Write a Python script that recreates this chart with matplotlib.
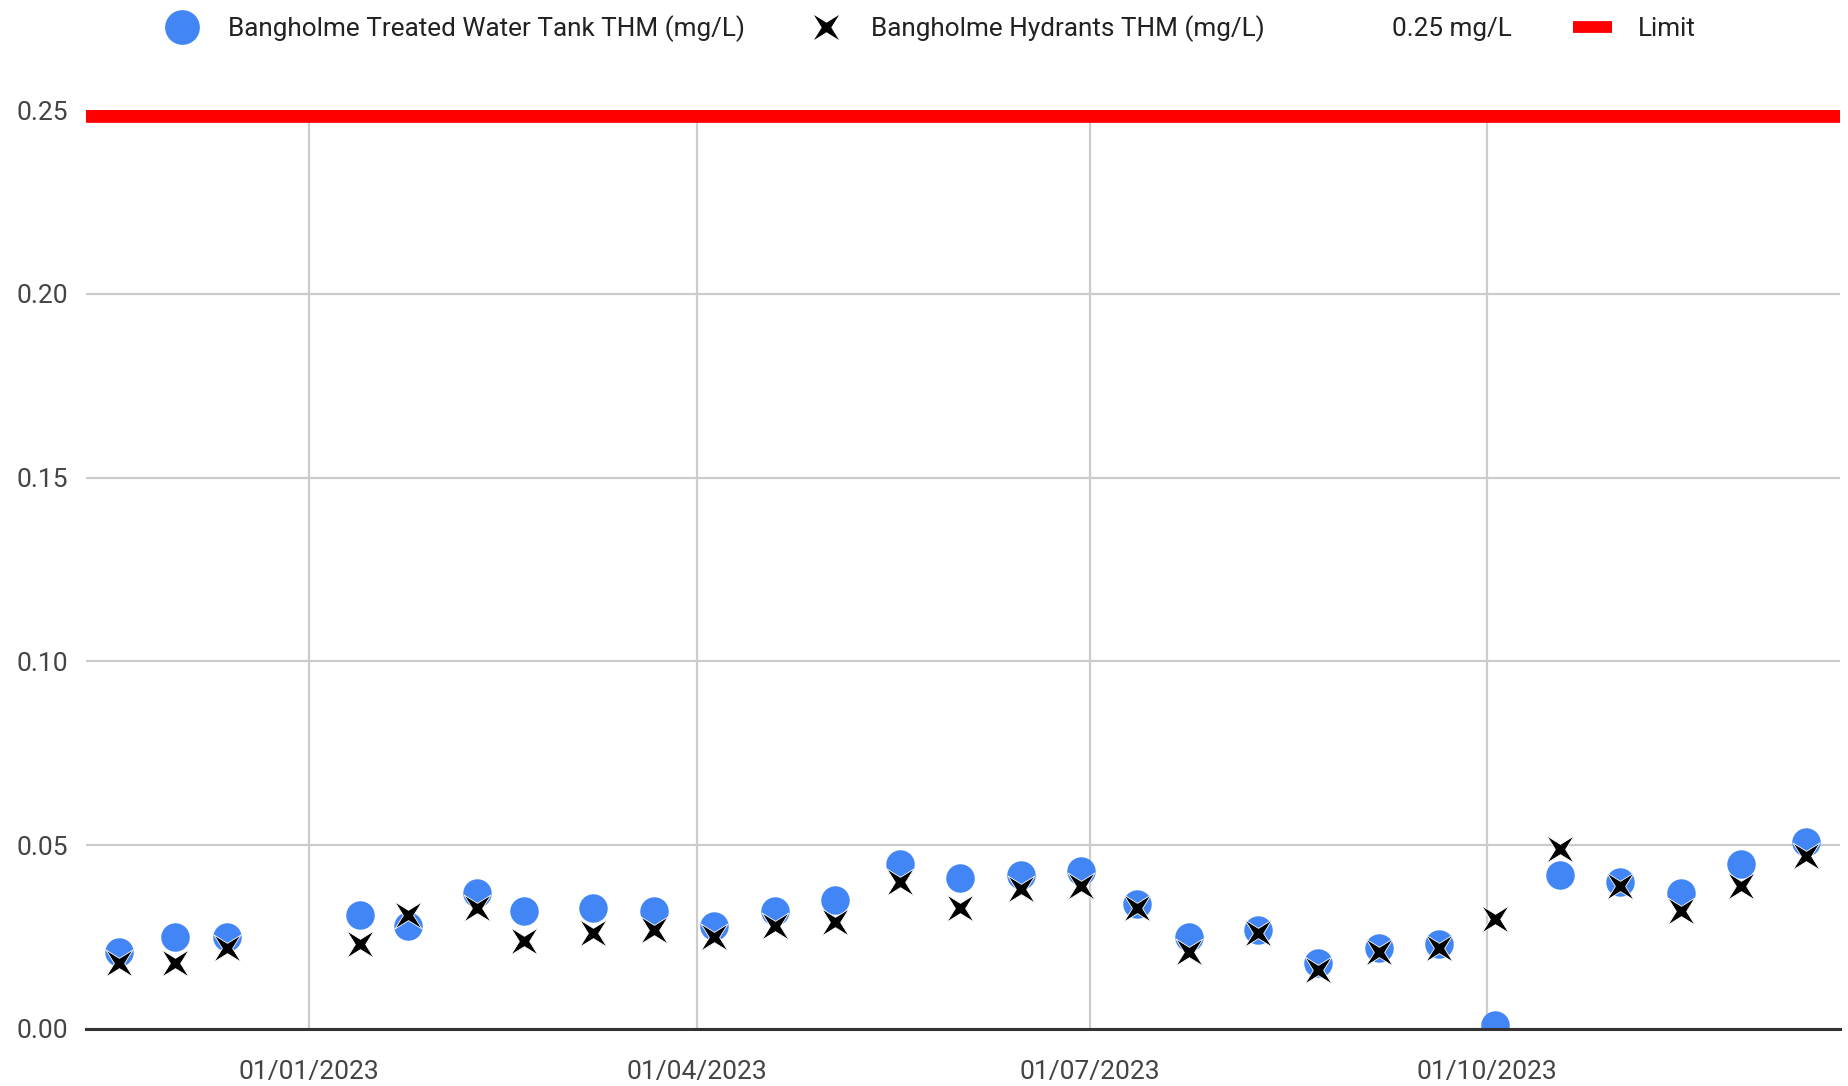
import numpy as np
import matplotlib
matplotlib.use('Agg')
import matplotlib.pyplot as plt
import matplotlib.dates as mdates
from matplotlib.lines import Line2D
from matplotlib.path import Path

# sample dates and THM readings (mg/L)
sample_dates = ['2022-11-18', '2022-12-01', '2022-12-13', '2023-01-13', '2023-01-24',
                '2023-02-09', '2023-02-20', '2023-03-08', '2023-03-22', '2023-04-05',
                '2023-04-19', '2023-05-03', '2023-05-18', '2023-06-01', '2023-06-15',
                '2023-06-29', '2023-07-12', '2023-07-24', '2023-08-09', '2023-08-23',
                '2023-09-06', '2023-09-20', '2023-10-03', '2023-10-18', '2023-11-01',
                '2023-11-15', '2023-11-29', '2023-12-14']
tank_thm = [0.021, 0.025, 0.025, 0.031, 0.028, 0.037, 0.032, 0.033, 0.032, 0.028,
            0.032, 0.035, 0.045, 0.041, 0.042, 0.043, 0.034, 0.025, 0.027, 0.018,
            0.022, 0.023, 0.001, 0.042, 0.040, 0.037, 0.045, 0.051]
hydrant_thm = [0.018, 0.018, 0.022, 0.023, 0.031, 0.033, 0.024, 0.026, 0.027, 0.025,
               0.028, 0.029, 0.040, 0.033, 0.038, 0.039, 0.033, 0.021, 0.026, 0.016,
               0.021, 0.022, 0.030, 0.049, 0.039, 0.032, 0.039, 0.047]
limit_value = 0.25

series_labels = ['Bangholme Treated Water Tank THM (mg/L)', 'Bangholme Hydrants THM (mg/L)',
                 '0.25 mg/L', 'Limit']
x_ticks = ['2023-01-01', '2023-04-01', '2023-07-01', '2023-10-01']
y_ticks = [0.0, 0.05, 0.10, 0.15, 0.20, 0.25]
x_range = ['2022-11-10T10', '2023-12-21T22']

BLUE = '#4285F4'
RED = '#FF0000'
GRID = '#CCCCCC'

plt.rcParams['font.family'] = ['Roboto', 'DejaVu Sans']


def star_x_marker():
    # four-pointed star rotated 45 degrees (google charts "star" x)
    r = 0.38
    verts = [(1, 1), (0, r), (-1, 1), (-r, 0), (-1, -1), (0, -r), (1, -1), (r, 0), (1, 1)]
    codes = [Path.MOVETO] + [Path.LINETO] * 7 + [Path.CLOSEPOLY]
    return Path(verts, codes)


x_marker = star_x_marker()
dates = np.array(sample_dates, dtype='datetime64[D]')

fig = plt.figure(figsize=(18.49, 10.86), dpi=100)
ax = fig.add_axes([0.0465, 0.0525, 0.9487, 0.8462])

ax.plot(dates, tank_thm, ls='none', marker='o', markersize=20.5, color=BLUE,
        markeredgewidth=0, zorder=3)
ax.plot(dates, hydrant_thm, ls='none', marker=x_marker, markersize=19.5, color='black',
        markeredgecolor='white', markeredgewidth=0.6, zorder=4)
ax.axhline(limit_value, color=RED, lw=18.5, zorder=2, solid_capstyle='butt')

ax.set_xlim(np.datetime64(x_range[0]), np.datetime64(x_range[1]))
ax.set_ylim(0, 0.25)
ax.set_yticks(y_ticks)
ax.yaxis.set_major_formatter(plt.FuncFormatter(lambda v, p: f'{v:.2f}'))
ax.set_xticks(np.array(x_ticks, dtype='datetime64[D]'))
ax.xaxis.set_major_formatter(mdates.DateFormatter('%d/%m/%Y'))

ax.grid(True, color=GRID, lw=1.6, zorder=0)
ax.set_axisbelow(True)
for side in ['top', 'left', 'right']:
    ax.spines[side].set_visible(False)
ax.spines['bottom'].set_color('#333333')
ax.spines['bottom'].set_linewidth(2.2)
ax.spines['bottom'].set_zorder(5)
ax.tick_params(axis='both', length=0, labelsize=19, labelcolor='#444444')
ax.tick_params(axis='x', pad=22)
ax.tick_params(axis='y', pad=13)

handles = [
    Line2D([], [], ls='none', marker='o', markersize=25, color=BLUE, markeredgewidth=0),
    Line2D([], [], ls='none', marker=x_marker, markersize=18, color='black', markeredgewidth=0),
    Line2D([], [], ls='none'),
    Line2D([], [], color=RED, lw=8.5, solid_capstyle='butt'),
]
leg = fig.legend(handles, series_labels, loc='center', bbox_to_anchor=(0.5025, 0.974),
                 ncol=4, frameon=False, fontsize=18.8, handlelength=1.5,
                 handletextpad=1.0, columnspacing=2.35, borderpad=0, borderaxespad=0)
for t in leg.get_texts():
    t.set_color('#222222')

fig.savefig('out.png', dpi=100)
